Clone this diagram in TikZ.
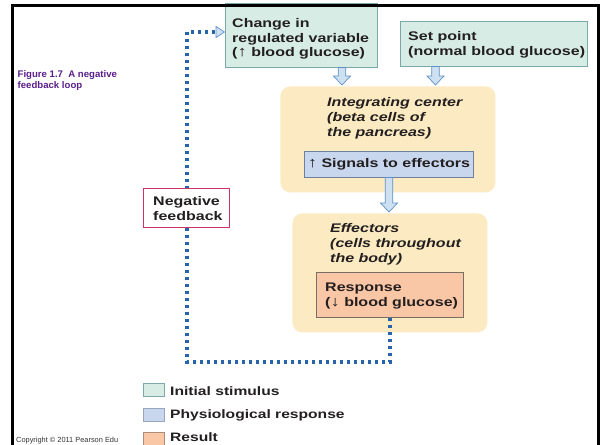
\documentclass[tikz,border=0pt]{standalone}
\usepackage{fontspec}
\setmainfont{Liberation Sans}[FakeStretch=1.28]
\newfontfamily\capfont{Liberation Sans}
\usetikzlibrary{arrows.meta}
\definecolor{gfill}{RGB}{214,236,228}
\definecolor{gborder}{RGB}{125,168,170}
\definecolor{yfill}{RGB}{252,235,194}
\definecolor{bfill}{RGB}{200,214,238}
\definecolor{bborder}{RGB}{110,128,160}
\definecolor{sfill}{RGB}{249,198,166}
\definecolor{sborder}{RGB}{120,110,100}
\definecolor{negborder}{RGB}{204,51,102}
\definecolor{dotcol}{RGB}{40,100,170}
\definecolor{afill}{RGB}{205,225,243}
\definecolor{aborder}{RGB}{95,145,198}
\definecolor{capcol}{RGB}{90,30,140}
\definecolor{txt}{RGB}{35,31,32}
\newcommand{\uparr}{{\fontsize{14.5}{14.5}\selectfont\mdseries ↑}}
\newcommand{\dnarr}{{\fontsize{14.5}{14.5}\selectfont\mdseries ↓}}
\tikzset{
  boxbase/.style={anchor=north west, inner sep=0pt, line width=0.8pt},
  gbox/.style={boxbase, draw=gborder, fill=gfill},
  ybox/.style={boxbase, fill=yfill, rounded corners=10pt},
  bbox/.style={boxbase, draw=bborder, fill=bfill},
  sbox/.style={boxbase, draw=sborder, fill=sfill},
  nbox/.style={boxbase, draw=negborder, fill=white, line width=1.2pt},
  boxtext/.style={anchor=north west, inner sep=0pt, align=left, text=txt,
    font=\fontsize{12.5}{14.8}\selectfont\bfseries},
  itext/.style={boxtext, font=\fontsize{12.5}{14.8}\selectfont\bfseries\itshape},
  legtext/.style={anchor=base west, inner sep=0pt, text=txt,
    font=\fontsize{12.2}{15}\selectfont\bfseries},
  dotline/.style={draw=dotcol, line width=3.2pt, dash pattern=on 3pt off 4pt},
  blockarrow/.style={draw=aborder, fill=afill, line width=0.7pt, line join=miter},
}
\newcommand{\blockarr}[3]{% x, y0, y1
  \path[blockarrow] (#1-3.8,#2) -- (#1-3.8,#3-9) -- (#1-8.5,#3-9) -- (#1,#3)
    -- (#1+8.5,#3-9) -- (#1+3.8,#3-9) -- (#1+3.8,#2) -- cycle;}
\begin{document}
\begin{tikzpicture}[x=1pt,y=-1pt]
\useasboundingbox (0,0) rectangle (601,444);
\fill[white] (0,0) rectangle (601,444);

% boxes
\node[gbox, minimum width=152pt, minimum height=64pt] (chg) at (225,3) {};
\node[gbox, minimum width=187pt, minimum height=45pt] (setp) at (400,21) {};
\node[ybox, minimum width=215pt, minimum height=106pt] (intc) at (280,86) {};
\node[bbox, minimum width=169pt, minimum height=26pt] (sig) at (304,151) {};
\node[ybox, minimum width=195pt, minimum height=119pt] (eff) at (292,213) {};
\node[sbox, minimum width=147pt, minimum height=45pt] (resp) at (316,272) {};

% texts
\node[boxtext] (chgtext) at (232,18) {Change in\\regulated variable\\(\uparr\ blood glucose)};
\node[boxtext] (settext) at (408,31.5) {Set point\\(normal blood glucose)};
\node[itext] (inttext) at (327,97.5) {Integrating center\\(beta cells of\\the pancreas)};
\node[boxtext, anchor=center] (sigtext) at (sig.center) {\uparr\ Signals to effectors};
\node[itext] (efftext) at (330,223.5) {Effectors\\(cells throughout\\the body)};
\node[boxtext] (resptext) at (325,282.5) {Response\\(\dnarr\ blood glucose)};

% hollow arrows
\blockarr{342}{67.5}{85}
\blockarr{435.5}{66.5}{85}
\blockarr{389}{177.5}{212}

% dotted feedback loop
\coordinate (lc) at (187,362);
\coordinate (tc) at (187,32);
\draw[dotline] (resp.south) |- (lc) -- (tc)
  -- ([xshift=-9pt]chg.west |- tc);
\path[blockarrow] (216,26.5) -- (224.5,32) -- (216,37.5) -- cycle;

% negative feedback box
\node[nbox, minimum width=86pt, minimum height=39pt] (neg) at (143,188) {};
\node[boxtext] (negtext) at (153,196.5) {Negative\\feedback};

% legend
\node[gbox, minimum width=21pt, minimum height=13pt] (lg1) at (143,383) {};
\node[bbox, draw=bborder!70, minimum width=21pt, minimum height=13pt] (lg2) at (143,408) {};
\node[sbox, draw=sfill!70!black, minimum width=21pt, minimum height=13pt] (lg3) at (143,432) {};
\node[legtext] (lt1) at (170,395) {Initial stimulus};
\node[legtext] (lt2) at (170,418) {Physiological response};
\node[legtext] (lt3) at (170,441) {Result};

% caption and copyright
\node[anchor=north west, inner sep=0pt, align=left, text=capcol,
  font=\capfont\fontsize{9.6}{10.5}\selectfont\bfseries] (cap) at (17.5,70.5)
  {Figure 1.7~ A negative\\feedback loop};
\node[anchor=base west, inner sep=0pt, text=black!80,
  font=\capfont\fontsize{7.4}{8}\selectfont] (copy) at (16,442)
  {Copyright © 2011 Pearson Edu};

% frame
\draw[line width=3pt] (12.5,446) -- (12.5,6) -- (598.5,6) -- (598.5,446);
\end{tikzpicture}
\end{document}
